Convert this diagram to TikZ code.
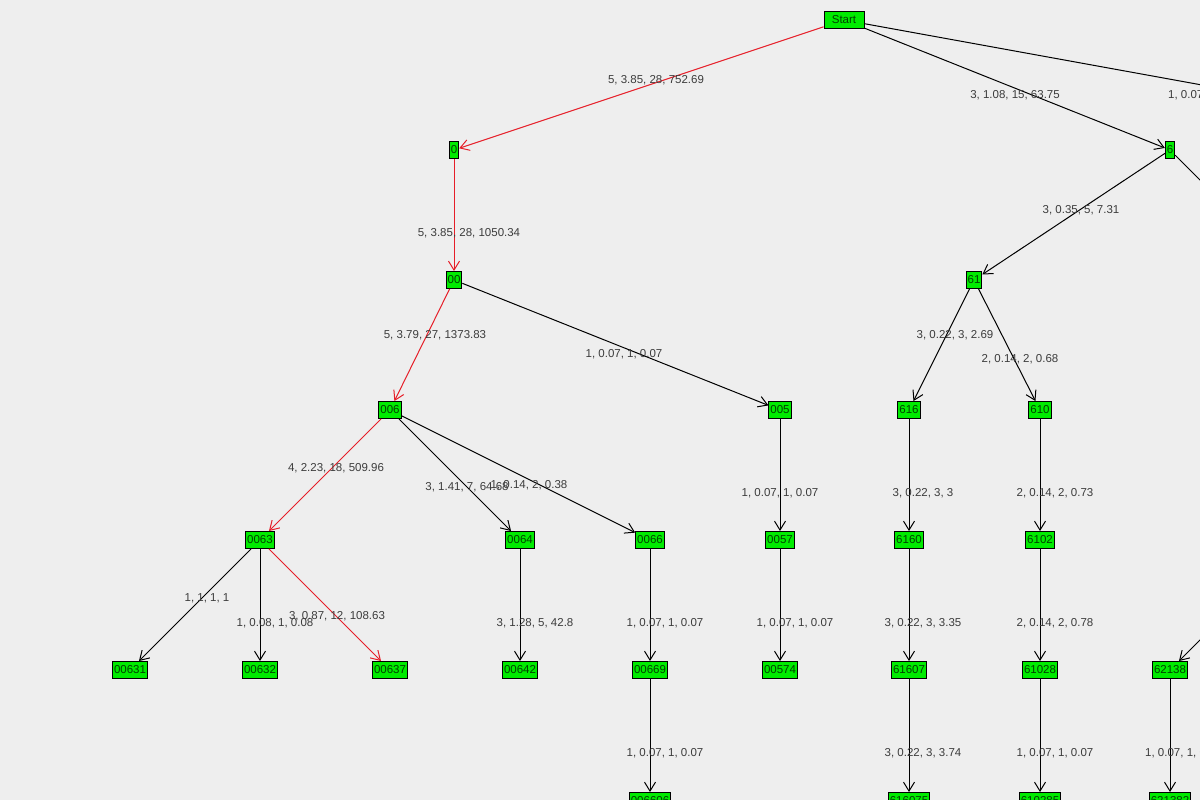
\documentclass[tikz,border=0pt]{standalone}
\usepackage{fontspec}
\setmainfont{Liberation Sans}
\usetikzlibrary{arrows.meta}
\definecolor{bg}{RGB}{238,238,238}
\definecolor{ng}{RGB}{0,235,0}
\definecolor{lab}{RGB}{60,60,60}
\definecolor{redl}{RGB}{230,30,40}
\tikzset{
  vx/.style={draw=black,line width=0.9pt,fill=ng,inner sep=1.5pt,minimum height=17pt,font=\fontsize{11.5}{12}\selectfont,text=black!75!green},
  ed/.style={draw=black,line width=1pt,-{Straight Barb[length=9pt,width=11pt]}},
  hot/.style={draw=redl,line width=1pt,-{Straight Barb[length=9pt,width=11pt]}},
  lb/.style={font=\fontsize{11.5}{12}\selectfont,text=lab,inner sep=0pt}
}
\begin{document}
\begin{tikzpicture}[x=1pt,y=-1pt]
\fill[bg] (0,0) rectangle (1200,800);
\useasboundingbox (0,0) rectangle (1200,800);
\clip (0,0) rectangle (1200,800);
\node[vx,minimum width=40pt] (S) at (844,20) {Start};
\node[vx] (n0) at (454,150) {0};
\node[vx] (n00) at (454,280) {00};
\node[vx] (n006) at (390,410) {006};
\node[vx] (n005) at (780,410) {005};
\node[vx] (n0063) at (260,540) {0063};
\node[vx] (n0064) at (520,540) {0064};
\node[vx] (n0066) at (650,540) {0066};
\node[vx] (n0057) at (780,540) {0057};
\node[vx] (n00631) at (130,670) {00631};
\node[vx] (n00632) at (260,670) {00632};
\node[vx] (n00637) at (390,670) {00637};
\node[vx] (n00642) at (520,670) {00642};
\node[vx] (n00669) at (650,670) {00669};
\node[vx] (n00574) at (780,670) {00574};
\node[vx] (n006606) at (650,801) {006606};
\node[vx] (n6) at (1170,150) {6};
\node[vx] (n61) at (974,280) {61};
\node[vx] (n616) at (909,410) {616};
\node[vx] (n610) at (1040,410) {610};
\node[vx] (n6160) at (909,540) {6160};
\node[vx] (n6102) at (1040,540) {6102};
\node[vx] (n61607) at (909,670) {61607};
\node[vx] (n61028) at (1040,670) {61028};
\node[vx] (n62138) at (1170,670) {62138};
\node[vx] (n616075) at (909,801) {616075};
\node[vx] (n610285) at (1040,801) {610285};
\node[vx] (n621382) at (1170,801) {621382};
\node[vx] (n7) at (1560,150) {7};
\node[vx] (n62) at (1300,280) {62};
\node[vx] (n621) at (1300,540) {621};

\draw[hot] (S) -- (n0);
\draw[hot] (n0) -- (n00);
\draw[hot] (n00) -- (n006);
\draw[hot] (n006) -- (n0063);
\draw[hot] (n0063) -- (n00637);
\draw[ed] (S) -- (n6);
\draw[ed] (S) -- (n7);
\draw[ed] (n00) -- (n005);
\draw[ed] (n006) -- (n0064);
\draw[ed] (n006) -- (n0066);
\draw[ed] (n005) -- (n0057);
\draw[ed] (n0063) -- (n00631);
\draw[ed] (n0063) -- (n00632);
\draw[ed] (n0064) -- (n00642);
\draw[ed] (n0066) -- (n00669);
\draw[ed] (n0057) -- (n00574);
\draw[ed] (n00669) -- (n006606);
\draw[ed] (n6) -- (n61);
\draw[ed] (n6) -- (n62);
\draw[ed] (n61) -- (n616);
\draw[ed] (n61) -- (n610);
\draw[ed] (n616) -- (n6160);
\draw[ed] (n610) -- (n6102);
\draw[ed] (n6160) -- (n61607);
\draw[ed] (n6102) -- (n61028);
\draw[ed] (n621) -- (n62138);
\draw[ed] (n61607) -- (n616075);
\draw[ed] (n61028) -- (n610285);
\draw[ed] (n62138) -- (n621382);

\node[lb] (l1) at (656,80) {5, 3.85, 28, 752.69};
\node[lb] (l2) at (1015,95) {3, 1.08, 15, 63.75};
\node[lb,anchor=west] (l3) at (1168,95) {1, 0.07, 1, 0.07};
\node[lb] (l4) at (469,233) {5, 3.85, 28, 1050.34};
\node[lb] (l5) at (1081,210) {3, 0.35, 5, 7.31};
\node[lb] (l6) at (435,335) {5, 3.79, 27, 1373.83};
\node[lb] (l7) at (624,354) {1, 0.07, 1, 0.07};
\node[lb] (l8) at (955,335) {3, 0.22, 3, 2.69};
\node[lb] (l9) at (1020,359) {2, 0.14, 2, 0.68};
\node[lb] (l10) at (336,468) {4, 2.23, 18, 509.96};
\node[lb] (l11) at (467,487) {3, 1.41, 7, 64.68};
\node[lb] (l12) at (529,485) {1, 0.14, 2, 0.38};
\node[lb] (l13) at (780,493) {1, 0.07, 1, 0.07};
\node[lb] (l14) at (923,493) {3, 0.22, 3, 3};
\node[lb] (l15) at (1055,493) {2, 0.14, 2, 0.73};
\node[lb] (l16) at (207,598) {1, 1, 1, 1};
\node[lb] (l17) at (275,623) {1, 0.08, 1, 0.08};
\node[lb] (l18) at (337,616) {3, 0.87, 12, 108.63};
\node[lb] (l19) at (535,623) {3, 1.28, 5, 42.8};
\node[lb] (l20) at (665,623) {1, 0.07, 1, 0.07};
\node[lb] (l21) at (795,623) {1, 0.07, 1, 0.07};
\node[lb] (l22) at (923,623) {3, 0.22, 3, 3.35};
\node[lb] (l23) at (1055,623) {2, 0.14, 2, 0.78};
\node[lb] (l24) at (665,753) {1, 0.07, 1, 0.07};
\node[lb] (l25) at (923,753) {3, 0.22, 3, 3.74};
\node[lb] (l26) at (1055,753) {1, 0.07, 1, 0.07};
\node[lb,anchor=west] (l27) at (1145,753) {1, 0.07, 1, 0.07};
\end{tikzpicture}
\end{document}
